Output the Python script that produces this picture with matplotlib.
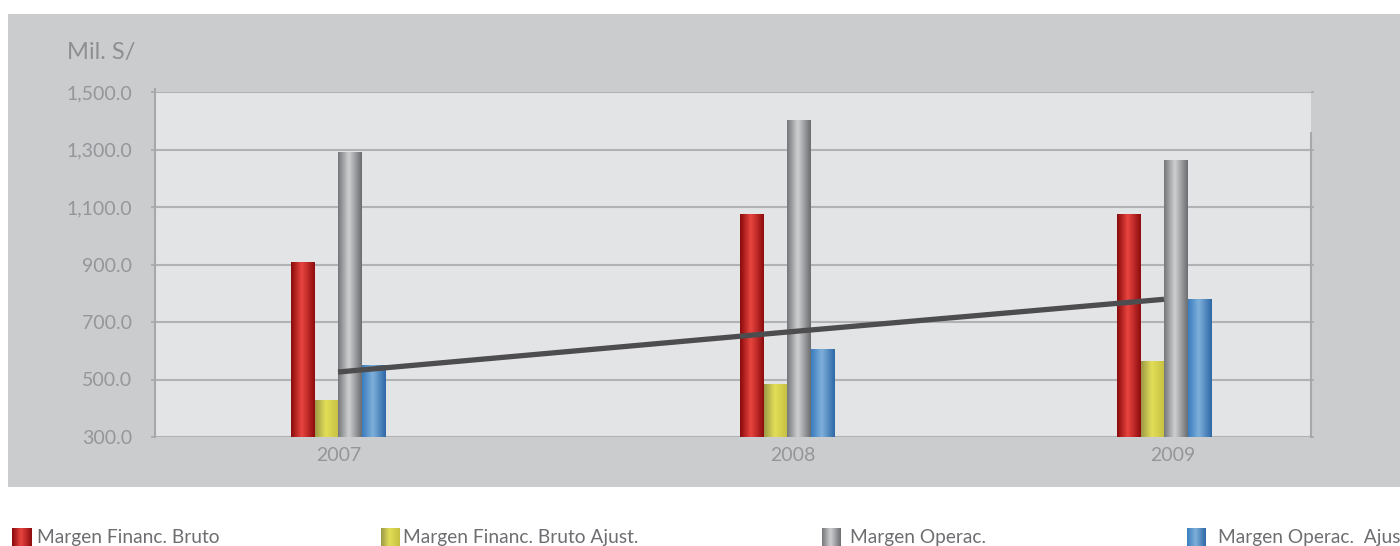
import numpy as np
import matplotlib
matplotlib.use('Agg')
import matplotlib.pyplot as plt
from matplotlib.patches import Rectangle
from matplotlib.colors import LinearSegmentedColormap

plt.rcParams['font.family'] = ['Lato', 'DejaVu Sans']

# data
years = ['2007', '2008', '2009']
series = ['Margen Financ. Bruto', 'Margen Financ. Bruto Ajust.', 'Margen Operac.', 'Margen Operac.  Ajust.']
mfb = [907, 1074, 1074]
mfb_aj = [428, 484, 564]
mop = [1289, 1401, 1262]
mop_aj = [549, 605, 779]
trend = [526, 665, 779]
yticks = [300, 500, 700, 900, 1100, 1300, 1500]

# layout (groups are not evenly spaced in the original, labels a bit off-centre)
xpos = np.array([338, 787, 1164]) - 155
xlab = np.array([339, 793, 1173]) - 155
bw = 23.5

# gradient stops for each series: (left, highlight, right)
grads = [
    ['#8a0a0c', '#e9453f', '#8e0b0e'],
    ['#9c9a48', '#e2de58', '#c5c040'],
    ['#76777a', '#cfd0d2', '#6c6d70'],
    ['#3a7dbf', '#7fb0da', '#2e68a6'],
]


def gradient_img(stops, n=64):
    cm = LinearSegmentedColormap.from_list('g', list(zip([0, 0.45, 1], stops)))
    return cm(np.linspace(0, 1, n))[np.newaxis, :, :]


fig = plt.figure(figsize=(14, 5.46), dpi=100)
fig.patch.set_facecolor('white')
fig.patches.append(Rectangle((8 / 1400, 59 / 546), 1392 / 1400, 473 / 546,
                             transform=fig.transFigure, facecolor='#cbcccd',
                             edgecolor='none', zorder=-1))

ax = fig.add_axes([155 / 1400, 109 / 546, 1156 / 1400, 345 / 546])
ax.set_facecolor('#e3e4e6')

vals = [mfb, mfb_aj, mop, mop_aj]
offsets = [-1.5, -0.5, 0.5, 1.5]
for v, off, g in zip(vals, offsets, grads):
    bars = ax.bar(xpos + off * bw, v, width=bw, color='none', zorder=3)
    img = gradient_img(g)
    for r in bars:
        ax.imshow(img, extent=[r.get_x(), r.get_x() + r.get_width(), 0, r.get_height()],
                  aspect='auto', zorder=3, interpolation='bicubic')

ax.plot(xpos, trend, color='#4d4d4f', lw=3.8, zorder=4, solid_capstyle='butt')

ax.set_xlim(0, 1156)
ax.set_ylim(300, 1500)
ax.set_yticks(yticks)
ax.set_yticklabels(['{:,.1f}'.format(t) for t in yticks])
ax.set_xticks(xlab)
ax.set_xticklabels(years)
ax.grid(axis='y', color='#b1b2b4', lw=1.5, zorder=1)
ax.set_axisbelow(True)
ax.tick_params(axis='y', length=3, width=1.2, color='#a7a8aa', pad=13.5,
               labelsize=14, labelcolor='#95969a', direction='out',
               right=True, labelright=False)
ax.tick_params(axis='x', length=0, pad=7, labelsize=14, labelcolor='#95969a')

for s in ['top', 'bottom']:
    ax.spines[s].set_visible(False)
ax.spines['left'].set_color('#a7a8aa')
ax.spines['left'].set_linewidth(1.5)
ax.spines['left'].set_bounds(300, 1510)
ax.spines['right'].set_color('#a7a8aa')
ax.spines['right'].set_linewidth(1.5)
ax.spines['right'].set_bounds(300, 1356)
for t in ax.yaxis.get_major_ticks():
    t.tick2line.set_markersize(2)

fig.text(67 / 1400, 1 - 52 / 546, 'Mil. S/', fontsize=17, color='#8e8f91',
         ha='left', va='center')

# legend along the bottom (last entry runs off the right edge, as in the original)
leg_patch_x = [12, 381, 822, 1187]
leg_text_x = [37, 403, 850, 1218]
for g, px, tx, name in zip(grads, leg_patch_x, leg_text_x, series):
    lax = fig.add_axes([px / 1400, 0, 19 / 1400, 18 / 546])
    lax.imshow(gradient_img(g), aspect='auto', extent=[0, 1, 0, 1], interpolation='bicubic')
    lax.axis('off')
    fig.text(tx / 1400, 3 / 546, name, fontsize=13.8, color='#6d6e71',
             ha='left', va='baseline')

fig.savefig('out.png', dpi=100)
